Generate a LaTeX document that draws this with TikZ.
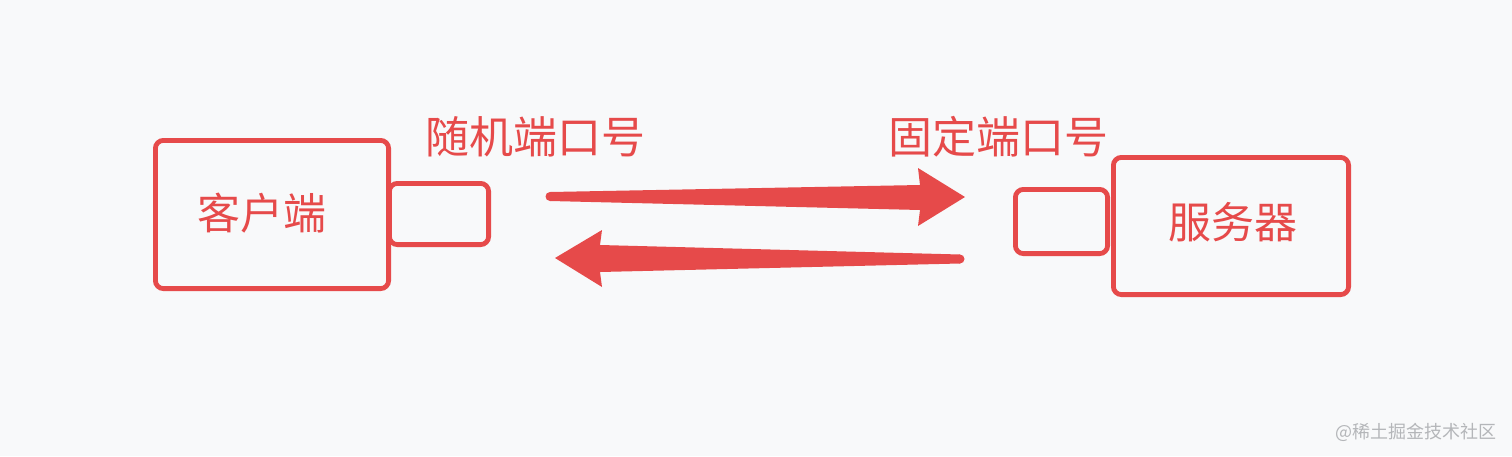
\documentclass[tikz,border=0pt]{standalone}
\usepackage{fontspec}
\usetikzlibrary{calc}
\newfontfamily\cjk{Noto Sans CJK SC}
\definecolor{bgc}{HTML}{F8F9FA}
\definecolor{redc}{HTML}{E64A4A}
\definecolor{wmc}{HTML}{B4B6B9}
\begin{document}
\begin{tikzpicture}[x=0.5pt,y=-0.5pt,
  box/.style={draw=redc, line width=2.4pt, rounded corners=4pt, inner sep=0pt},
  lbl/.style={text=redc, font=\cjk\fontsize{21.5pt}{24pt}\selectfont, inner sep=0pt},
  plbl/.style={text=redc, font=\cjk\fontsize{22pt}{24pt}\selectfont, inner sep=0pt}]
\fill[bgc] (0,0) rectangle (1512,456);
\useasboundingbox (0,0) rectangle (1512,456);
% client
\node[box, minimum width=116.6pt, minimum height=74.1pt] (client) at (272,214.5) {};
\node[lbl] (clientlbl) at (262,213) {客户端};
\node[box, minimum width=49.6pt, minimum height=30.6pt] (cport) at (439,214) {};
\node[plbl] (cportlbl) at (535,137) {随机端口号};
% server
\node[box, minimum width=117.6pt, minimum height=68.6pt] (server) at (1231,226) {};
\node[lbl] (serverlbl) at (1233,222) {服务器};
\node[box, minimum width=46.1pt, minimum height=32.1pt] (sport) at (1061.5,221.5) {};
\node[plbl] (sportlbl) at (998,137) {固定端口号};
% arrows
\coordinate (a1s) at (550,196.5);
\coordinate (a1e) at (965,197);
\coordinate (a2s) at (960,259);
\coordinate (a2e) at (555,258);
\fill[redc] ($(a1s)+(0,-4.5)$) -- ($(a1e)+(-45,-12)$) -- ($(a1e)+(-47,-29)$) -- (a1e)
  -- ($(a1e)+(-47,29)$) -- ($(a1e)+(-45,13)$) -- ($(a1s)+(0,4.5)$) -- cycle;
\fill[redc] (a1s) circle (4.5);
\fill[redc] ($(a2s)+(0,-4.5)$) -- ($(a2e)+(45,-13)$) -- ($(a2e)+(47,-28)$) -- (a2e)
  -- ($(a2e)+(47,29)$) -- ($(a2e)+(45,14)$) -- ($(a2s)+(0,4.5)$) -- cycle;
\fill[redc] (a2s) circle (4.5);
% watermark
\node[text=wmc, font=\cjk\fontsize{9pt}{10pt}\selectfont, anchor=east, inner sep=0pt] (wm) at (1497,432) {@稀土掘金技术社区};
\end{tikzpicture}
\end{document}
